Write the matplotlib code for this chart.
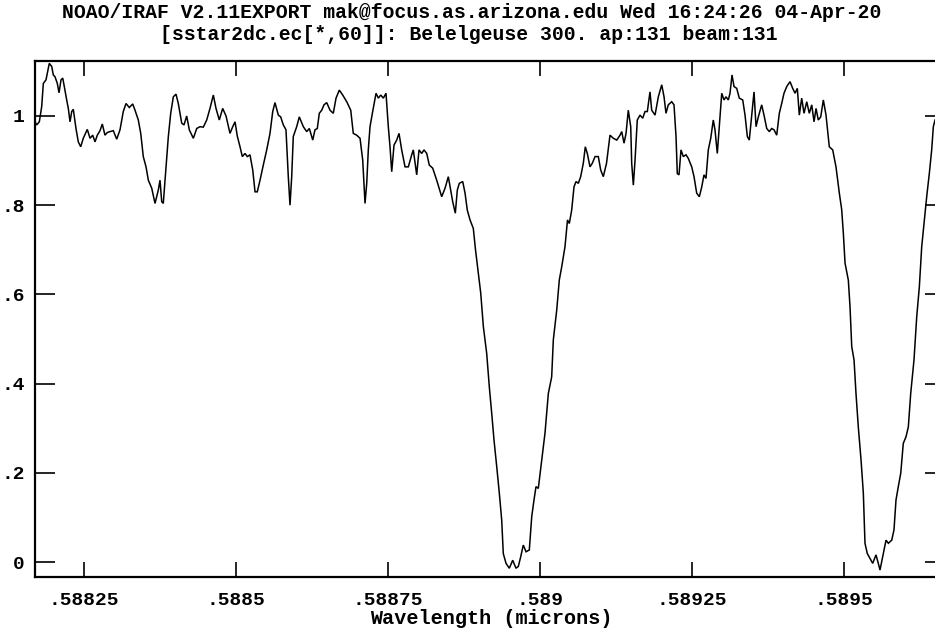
import numpy as np
import matplotlib
matplotlib.use("Agg")
import matplotlib.pyplot as plt

# ---- data ----
wavelength_angstrom = [
    5881.694, 5881.722, 5881.765, 5881.804, 5881.831, 5881.875, 5881.929, 5881.969, 5881.995, 5882.023,
    5882.061, 5882.089, 5882.122, 5882.150, 5882.176, 5882.215, 5882.242, 5882.270, 5882.298, 5882.324,
    5882.368, 5882.406, 5882.446, 5882.488, 5882.554, 5882.599, 5882.643, 5882.681, 5882.719, 5882.763,
    5882.801, 5882.845, 5882.883, 5882.928, 5882.982, 5883.038, 5883.092, 5883.146, 5883.191, 5883.245,
    5883.301, 5883.339, 5883.393, 5883.433, 5883.475, 5883.520, 5883.558, 5883.614, 5883.668, 5883.722,
    5883.750, 5883.778, 5883.804, 5883.849, 5883.887, 5883.926, 5883.969, 5884.013, 5884.051, 5884.107,
    5884.145, 5884.189, 5884.232, 5884.298, 5884.354, 5884.408, 5884.462, 5884.518, 5884.572, 5884.627,
    5884.671, 5884.725, 5884.781, 5884.836, 5884.901, 5884.946, 5884.984, 5885.021, 5885.066, 5885.104,
    5885.148, 5885.186, 5885.230, 5885.275, 5885.313, 5885.350, 5885.395, 5885.449, 5885.505, 5885.559,
    5885.604, 5885.641, 5885.696, 5885.735, 5885.778, 5885.822, 5885.860, 5885.888, 5885.916, 5885.942,
    5885.998, 5886.041, 5886.107, 5886.163, 5886.206, 5886.262, 5886.299, 5886.337, 5886.370, 5886.410,
    5886.447, 5886.492, 5886.546, 5886.600, 5886.645, 5886.699, 5886.755, 5886.821, 5886.887, 5886.929,
    5886.985, 5887.040, 5887.084, 5887.122, 5887.150, 5887.176, 5887.204, 5887.248, 5887.303, 5887.341,
    5887.380, 5887.423, 5887.467, 5887.505, 5887.533, 5887.561, 5887.599, 5887.643, 5887.681, 5887.725,
    5887.780, 5887.834, 5887.890, 5887.916, 5887.972, 5888.010, 5888.054, 5888.092, 5888.137, 5888.179,
    5888.235, 5888.301, 5888.383, 5888.438, 5888.492, 5888.531, 5888.564, 5888.607, 5888.640, 5888.673,
    5888.729, 5888.767, 5888.804, 5888.849, 5888.903, 5888.939, 5888.985, 5889.025, 5889.068, 5889.123,
    5889.166, 5889.206, 5889.243, 5889.288, 5889.331, 5889.370, 5889.396, 5889.441, 5889.495, 5889.551,
    5889.605, 5889.643, 5889.683, 5889.725, 5889.770, 5889.824, 5889.864, 5889.901, 5889.934, 5889.972,
    5890.028, 5890.082, 5890.137, 5890.192, 5890.219, 5890.275, 5890.317, 5890.357, 5890.411, 5890.452,
    5890.482, 5890.521, 5890.559, 5890.592, 5890.630, 5890.669, 5890.712, 5890.745, 5890.778, 5890.822,
    5890.860, 5890.905, 5890.959, 5890.998, 5891.041, 5891.094, 5891.151, 5891.206, 5891.262, 5891.316,
    5891.344, 5891.382, 5891.415, 5891.452, 5891.492, 5891.508, 5891.535, 5891.563, 5891.600, 5891.645,
    5891.689, 5891.727, 5891.765, 5891.809, 5891.837, 5891.892, 5891.946, 5892.002, 5892.040, 5892.072,
    5892.110, 5892.166, 5892.204, 5892.237, 5892.258, 5892.286, 5892.319, 5892.357, 5892.401, 5892.439,
    5892.495, 5892.533, 5892.577, 5892.620, 5892.660, 5892.697, 5892.730, 5892.768, 5892.808, 5892.850,
    5892.878, 5892.916, 5892.949, 5892.989, 5893.026, 5893.059, 5893.097, 5893.125, 5893.158, 5893.191,
    5893.235, 5893.278, 5893.334, 5893.372, 5893.410, 5893.442, 5893.482, 5893.520, 5893.553, 5893.591,
    5893.646, 5893.684, 5893.729, 5893.771, 5893.811, 5893.849, 5893.893, 5893.936, 5893.975, 5894.013,
    5894.058, 5894.112, 5894.156, 5894.194, 5894.232, 5894.265, 5894.304, 5894.342, 5894.387, 5894.429,
    5894.469, 5894.507, 5894.540, 5894.577, 5894.617, 5894.660, 5894.704, 5894.758, 5894.814, 5894.868,
    5894.923, 5894.962, 5894.989, 5895.017, 5895.071, 5895.099, 5895.127, 5895.165, 5895.197, 5895.235,
    5895.280, 5895.318, 5895.345, 5895.383, 5895.428, 5895.472, 5895.526, 5895.564, 5895.592, 5895.620,
    5895.646, 5895.691, 5895.729, 5895.785, 5895.822, 5895.855, 5895.893, 5895.933, 5895.975, 5896.020,
    5896.058, 5896.097, 5896.151, 5896.196, 5896.239, 5896.278, 5896.316, 5896.360, 5896.403, 5896.442,
    5896.469, 5896.497,
]

flux = [
    0.987, 0.980, 0.987, 1.021, 1.073, 1.081, 1.118, 1.111, 1.092, 1.088,
    1.073, 1.052, 1.081, 1.085, 1.066, 1.036, 1.017, 0.987, 1.010, 1.015,
    0.972, 0.942, 0.931, 0.950, 0.970, 0.950, 0.957, 0.942, 0.957, 0.967,
    0.982, 0.957, 0.963, 0.965, 0.967, 0.948, 0.969, 1.010, 1.028, 1.019,
    1.027, 1.013, 0.991, 0.961, 0.909, 0.886, 0.856, 0.838, 0.804, 0.834,
    0.856, 0.808, 0.804, 0.886, 0.954, 1.006, 1.043, 1.049, 1.028, 0.984,
    0.980, 1.000, 0.969, 0.950, 0.972, 0.976, 0.975, 0.991, 1.017, 1.047,
    1.017, 0.991, 1.017, 1.000, 0.961, 0.976, 0.987, 0.955, 0.931, 0.909,
    0.916, 0.909, 0.913, 0.879, 0.830, 0.830, 0.856, 0.890, 0.924, 0.961,
    1.010, 1.030, 1.002, 0.998, 0.980, 0.969, 0.864, 0.800, 0.864, 0.954,
    0.976, 0.998, 0.976, 0.965, 0.972, 0.946, 0.969, 0.972, 1.006, 1.013,
    1.025, 1.030, 1.013, 1.006, 1.040, 1.058, 1.047, 1.032, 1.013, 0.961,
    0.957, 0.950, 0.901, 0.804, 0.849, 0.924, 0.976, 1.010, 1.051, 1.040,
    1.047, 1.040, 1.051, 0.976, 0.931, 0.875, 0.935, 0.946, 0.961, 0.924,
    0.886, 0.886, 0.913, 0.924, 0.868, 0.924, 0.916, 0.924, 0.916, 0.890,
    0.883, 0.856, 0.819, 0.838, 0.864, 0.834, 0.808, 0.782, 0.834, 0.849,
    0.853, 0.827, 0.789, 0.767, 0.748, 0.700, 0.647, 0.603, 0.528, 0.468,
    0.393, 0.333, 0.274, 0.214, 0.154, 0.094, 0.019, -0.003, -0.014, 0.004,
    -0.014, -0.010, 0.012, 0.038, 0.023, 0.027, 0.102, 0.139, 0.169, 0.165,
    0.229, 0.289, 0.378, 0.415, 0.498, 0.565, 0.632, 0.662, 0.707, 0.767,
    0.759, 0.789, 0.841, 0.853, 0.849, 0.864, 0.894, 0.931, 0.916, 0.886,
    0.894, 0.909, 0.909, 0.879, 0.864, 0.894, 0.957, 0.950, 0.946, 0.957,
    0.965, 0.939, 0.961, 1.013, 0.976, 0.894, 0.845, 0.901, 0.991, 1.002,
    0.995, 1.010, 1.010, 1.054, 1.013, 1.002, 1.043, 1.070, 1.043, 1.006,
    1.025, 1.032, 1.025, 0.954, 0.871, 0.868, 0.924, 0.909, 0.913, 0.905,
    0.886, 0.864, 0.827, 0.819, 0.841, 0.868, 0.860, 0.924, 0.950, 0.991,
    0.969, 0.916, 0.976, 1.051, 1.036, 1.043, 1.036, 1.051, 1.092, 1.066,
    1.062, 1.040, 1.036, 1.002, 0.954, 0.946, 1.002, 1.054, 0.976, 0.998,
    1.025, 1.002, 0.972, 0.965, 0.972, 0.969, 0.957, 1.006, 1.028, 1.051,
    1.066, 1.077, 1.062, 1.051, 1.062, 1.002, 1.040, 1.006, 1.032, 1.006,
    1.025, 0.987, 1.017, 0.991, 0.998, 1.036, 1.002, 0.931, 0.924, 0.886,
    0.827, 0.790, 0.737, 0.670, 0.632, 0.572, 0.483, 0.453, 0.378, 0.303,
    0.229, 0.154, 0.042, 0.019, 0.008, -0.003, 0.016, -0.003, -0.018, 0.001,
    0.019, 0.049, 0.042, 0.049, 0.072, 0.139, 0.169, 0.199, 0.266, 0.281,
    0.303, 0.378, 0.453, 0.550, 0.617, 0.707, 0.759, 0.819, 0.871, 0.924,
    0.976, 0.991,
]

x_ticks = [0.58825, 0.5885, 0.58875, 0.589, 0.58925, 0.5895]
x_tick_labels = [".58825", ".5885", ".58875", ".589", ".58925", ".5895"]
y_ticks = [0, 0.2, 0.4, 0.6, 0.8, 1.0]
y_tick_labels = ["0", ".2", ".4", ".6", ".8", "1"]

title_line1 = "NOAO/IRAF V2.11EXPORT mak@focus.as.arizona.edu Wed 16:24:26 04-Apr-20"
title_line2 = "[sstar2dc.ec[*,60]]: Belelgeuse 300. ap:131 beam:131"
x_label = "Wavelength (microns)"

x_limits = (0.5881694, 0.5896661)
y_limits = (-0.0336, 1.1233)

# ---- figure ----
plt.rcParams['font.family'] = ['Liberation Mono', 'DejaVu Sans Mono']
W, H = 935, 634
fig = plt.figure(figsize=(W / 100, H / 100), dpi=100)
ax = fig.add_axes([35 / W, 57 / H, 910 / W, 516 / H])

wl = np.array(wavelength_angstrom) / 1e4
ax.plot(wl, flux, color='black', lw=1.1, solid_joinstyle='miter')

ax.set_xlim(*x_limits)
ax.set_ylim(*y_limits)
ax.set_xticks(x_ticks)
ax.set_xticklabels(x_tick_labels)
ax.set_yticks(y_ticks)
ax.set_yticklabels(y_tick_labels)

for sp in ax.spines.values():
    sp.set_linewidth(1.6)
    sp.set_color('black')

ax.tick_params(axis='x', which='both', direction='in', length=10.8, width=1.2,
               top=True, bottom=True, pad=11.0, labelsize=14, colors='black')
ax.tick_params(axis='y', which='both', direction='in', length=14.4, width=1.2,
               left=True, right=True, pad=7.5, labelsize=14, colors='black')
for lab in ax.get_xticklabels() + ax.get_yticklabels():
    lab.set_fontweight('bold')

ax.set_xlabel(x_label, fontsize=14.5, fontweight='bold')
ax.xaxis.set_label_coords((491 - 35) / 910, (577 - 619) / 516)
ax.xaxis.label.set_verticalalignment('center')

fig.text(472 / W, 1 - 12 / H, title_line1, ha='center', va='center',
         fontsize=14.2, fontweight='bold')
fig.text(469 / W, 1 - 34.5 / H, title_line2, ha='center', va='center',
         fontsize=14.2, fontweight='bold')

fig.savefig("out.png", dpi=100)
